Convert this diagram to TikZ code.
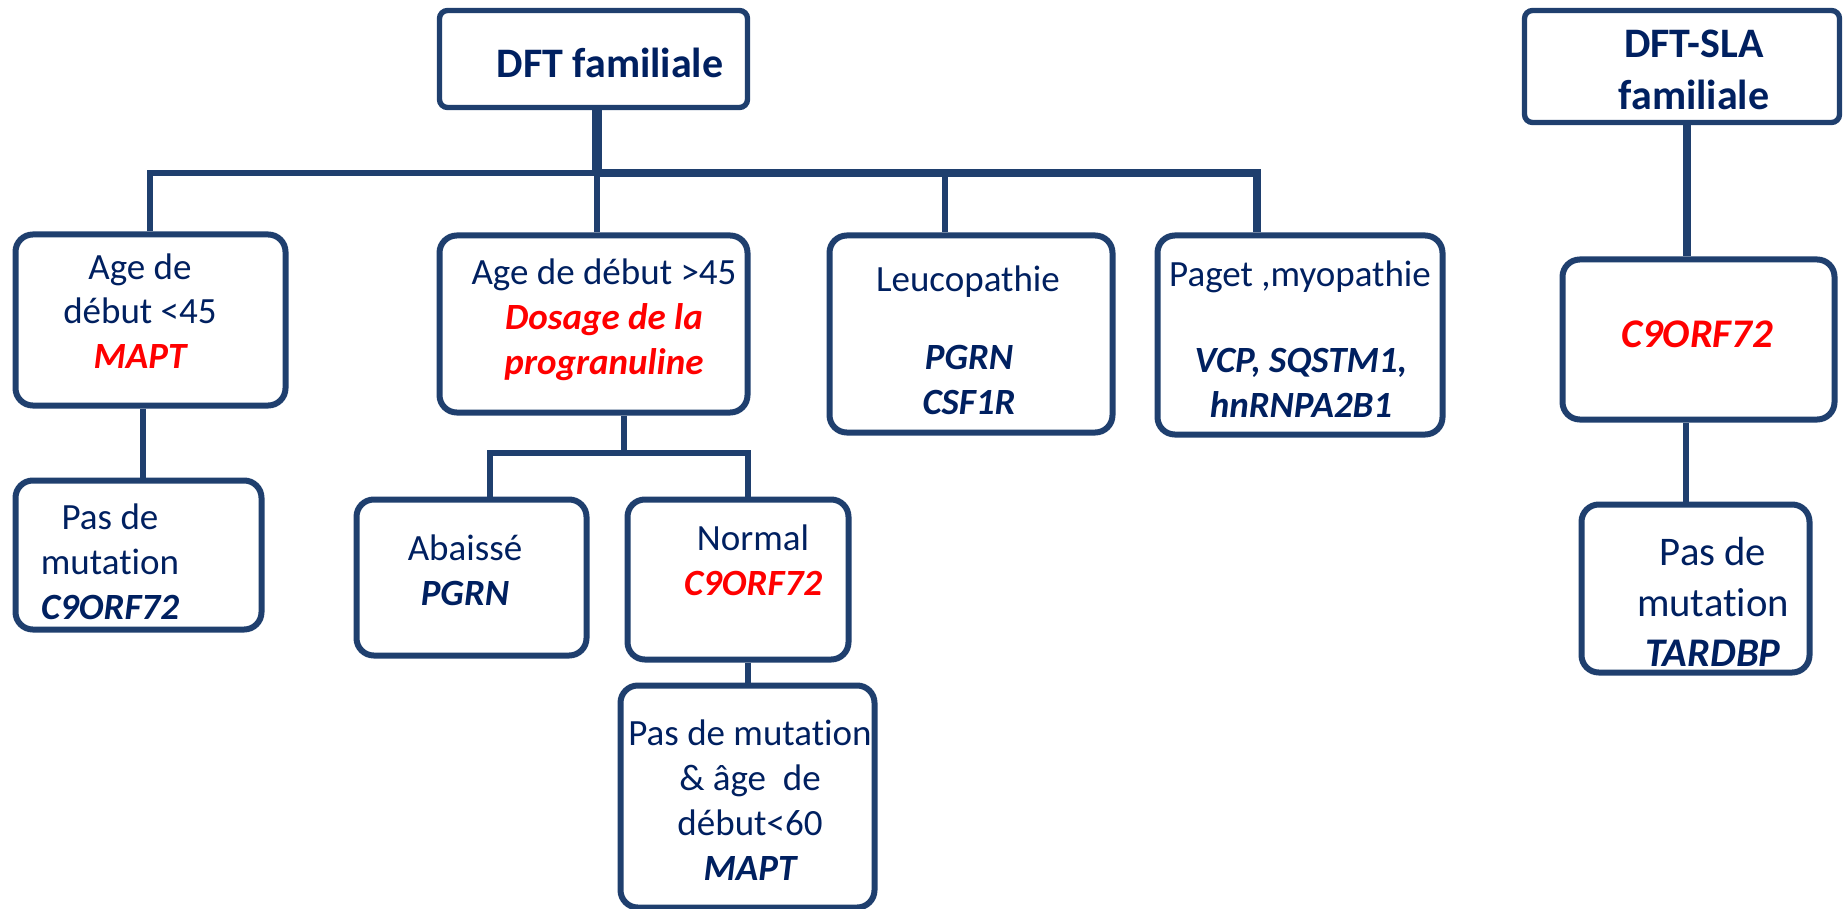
\documentclass[tikz,border=0pt]{standalone}
\usepackage{fontspec}
\setmainfont{Carlito}[Ligatures={NoCommon}]
\definecolor{txtblue}{HTML}{002060}
\definecolor{edge}{HTML}{1F3F6E}
\newcommand{\genename}[1]{{\bfseries\itshape #1}}
\newcommand{\redgene}[1]{{\color{red}\bfseries\itshape #1}}
\tikzset{
  box/.style={draw=edge, line width=4.5pt, rounded corners=13pt, fill=white, inner sep=0pt},
  topbox/.style={box, rounded corners=6pt, line width=4pt},
  bx/.style 2 args={minimum width=#1*0.75pt, minimum height=#2*0.75pt},
  txt/.style={text=txtblue, align=center, inner sep=0pt, font=\fontsize{27.75pt}{33.6pt}\selectfont},
  bigtxt/.style={text=txtblue, align=center, inner sep=0pt, font=\fontsize{30.5pt}{38pt}\selectfont},
  titletxt/.style={text=txtblue, align=center, inner sep=0pt, font=\fontsize{31.5pt}{39pt}\selectfont\bfseries},
  conn/.style={draw=edge, line width=4pt},
}
\begin{document}
\begin{tikzpicture}[x=0.75pt, y=-0.75pt]
\useasboundingbox (0,0) rectangle (1845,909);
% boxes
\node[topbox, bx={308}{97}] (top1) at (593.5,59) {};
\node[box, bx={270}{171}] (b1) at (150.5,320) {};
\node[box, bx={308}{177}] (b2) at (593.5,324) {};
\node[box, bx={283}{197}] (b3) at (971,334) {};
\node[box, bx={285}{199}] (b4) at (1300,335) {};
\node[topbox, bx={315}{112}] (top2) at (1682,66.5) {};
\node[box, bx={272}{160}] (c9) at (1698.5,339.5) {};
\node[box, bx={228}{168}] (p3) at (1695.5,588.5) {};
\node[box, bx={246}{149}] (p1) at (138.5,555) {};
\node[box, bx={230}{156}] (ab) at (471.5,577.5) {};
\node[box, bx={221}{160}] (no) at (738,579.5) {};
\node[box, bx={254}{222}] (p2) at (747.5,796.5) {};
% connectors
\coordinate (j0) at (597,173);
\coordinate (jL) at (150,173);
\coordinate (j3) at (945,173);
\coordinate (jR) at (1257,173);
\draw[conn, line width=7pt] (top1.south -| j0) -- (j0);
\draw[conn] (b1.north -| jL) -- (jL) -- (j0) -- (b2.north -| j0);
\draw[conn, line width=6pt] (j0) -- (jR) -- (b4.north -| jR);
\draw[conn] (j3) -- (b3.north -| j3);
\coordinate (k1) at (143,0);
\draw[conn] (b1.south -| k1) -- (p1.north -| k1);
\coordinate (s0) at (624,453);
\coordinate (sL) at (490,453);
\coordinate (sR) at (748,453);
\draw[conn] (b2.south -| s0) -- (s0);
\draw[conn] (ab.north -| sL) -- (sL) -- (sR) -- (no.north -| sR);
\draw[conn] (no.south -| sR) -- (p2.north -| sR);
\coordinate (r0) at (1687,0);
\draw[conn, line width=6.5pt] (top2.south -| r0) -- (c9.north -| r0);
\coordinate (r1) at (1686,0);
\draw[conn, line width=4.5pt] (c9.south -| r1) -- (p3.north -| r1);
% texts
\node[titletxt] (t1) at (610,63) {DFT familiale};
\node[titletxt] (t2) at (1694,70) {DFT-SLA\\familiale};
\node[txt] (tb1) at (140,311) {Age de\\début <45\\\redgene{MAPT}};
\node[txt] (tb2) at (604,320) {Age de début >45\\\redgene{Dosage de la}\\\redgene{progranuline}};
\node[txt] (tb3a) at (968,282) {Leucopathie};
\node[txt] (tb3b) at (969,380) {\genename{PGRN}\\\genename{CSF1R}};
\node[txt] (tb4a) at (1300,277) {Paget ,myopathie};
\node[txt] (tb4b) at (1301,383) {\genename{VCP, SQSTM1,}\\\genename{hnRNPA2B1}};
\node[bigtxt] (tc9) at (1697,334) {\redgene{C9ORF72}};
\node[bigtxt] (tp3) at (1713,602) {Pas de\\mutation\\\genename{TARDBP}};
\node[txt] (tp1) at (110,562) {Pas de\\mutation\\\genename{C9ORF72}};
\node[txt] (tab) at (465,570) {Abaissé\\\genename{PGRN}};
\node[txt] (tno) at (753,560) {Normal\\\redgene{C9ORF72}};
\node[txt] (tp2) at (750,800) {Pas de mutation\\\& âge\ \ de\\début<60\\\genename{MAPT}};
\end{tikzpicture}
\end{document}
